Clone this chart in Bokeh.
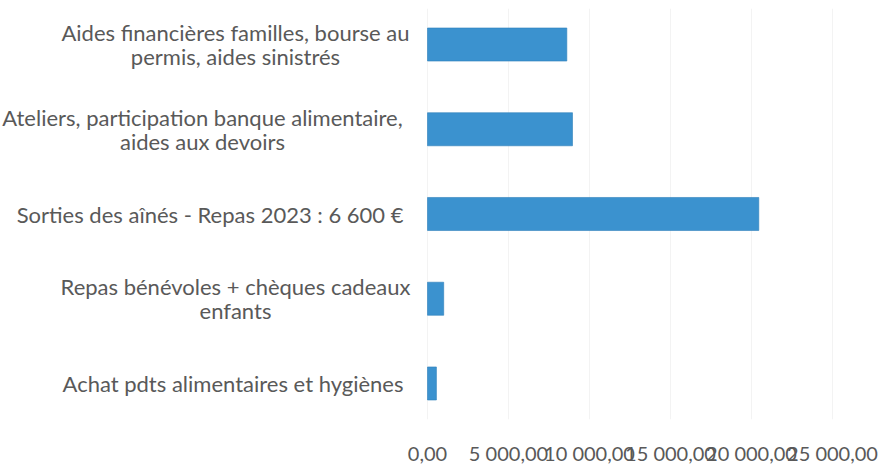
from bokeh.plotting import figure
from bokeh.models import FactorRange, FixedTicker, ColumnDataSource, Range1d
from bokeh.core.properties import value
from bokeh.embed import file_html
from bokeh.resources import INLINE

# Data (top to bottom as in the picture)
categories = [
    "Aides financières familles, bourse au\npermis, aides sinistrés",
    "Ateliers, participation banque alimentaire,\naides aux devoirs",
    "Sorties des aînés - Repas 2023 : 6 600 €",
    "Repas bénévoles + chèques cadeaux\nenfants",
    "Achat pdts alimentaires et hygiènes",
]
values = [8600, 8950, 20450, 1000, 550]
tick_values = [0, 5000, 10000, 15000, 20000, 25000]
tick_labels = ["0,00", "5 000,00", "10 000,00", "15 000,00", "20 000,00", "25 000,00"]

# ---- layout (pixels) ----
W, H = 879, 472
ZERO_PX = 427          # screen x of value 0
PX_PER_5000 = 81.0     # pixels per 5 000
def px_to_val(px):
    return (px - ZERO_PX) / PX_PER_5000 * 5000.0

# centre (screen x) of each category label block, and alignment
label_px = [235, 202, 403, 235, 403]
label_align = ["center", "center", "right", "center", "right"]

factors = categories[::-1]
source = ColumnDataSource(dict(cat=categories, val=values))
lab_src = ColumnDataSource(dict(cat=categories, x=[px_to_val(v) for v in label_px],
                                align=label_align))

p = figure(
    width=W, height=H,
    y_range=FactorRange(factors=factors, range_padding=-0.03),
    x_range=Range1d(px_to_val(0), px_to_val(W)),
    output_backend="svg", toolbar_location=None,
    min_border_left=0, min_border_right=0, min_border_top=8, min_border_bottom=53,
)
p.hbar(y="cat", right="val", left=0, height=0.39, source=source,
       fill_color="#3b92cf", line_color="#2e7fba", line_width=0.6)

p.text(x="x", y="cat", text="cat", source=lab_src,
       text_align="align", text_baseline="middle",
       text_font=value("Lato"), text_font_size="22px",
       text_color="#595959", text_line_height=0.88)

p.outline_line_color = None
p.background_fill_color = "white"
p.border_fill_color = "white"

p.yaxis.visible = False

p.xaxis.ticker = FixedTicker(ticks=tick_values)
p.xaxis.major_label_overrides = {v: l for v, l in zip(tick_values, tick_labels)}
p.xaxis.axis_line_color = None
p.xaxis.major_tick_line_color = None
p.xaxis.minor_tick_line_color = None
p.xaxis.major_label_standoff = 15
p.xaxis.major_label_text_font = "Lato"
p.xaxis.major_label_text_font_size = "20px"
p.xaxis.major_label_text_color = "#595959"

p.xgrid.grid_line_color = "#f3f3f3"
p.ygrid.grid_line_color = None

open("out.html", "w").write(file_html(p, INLINE))
